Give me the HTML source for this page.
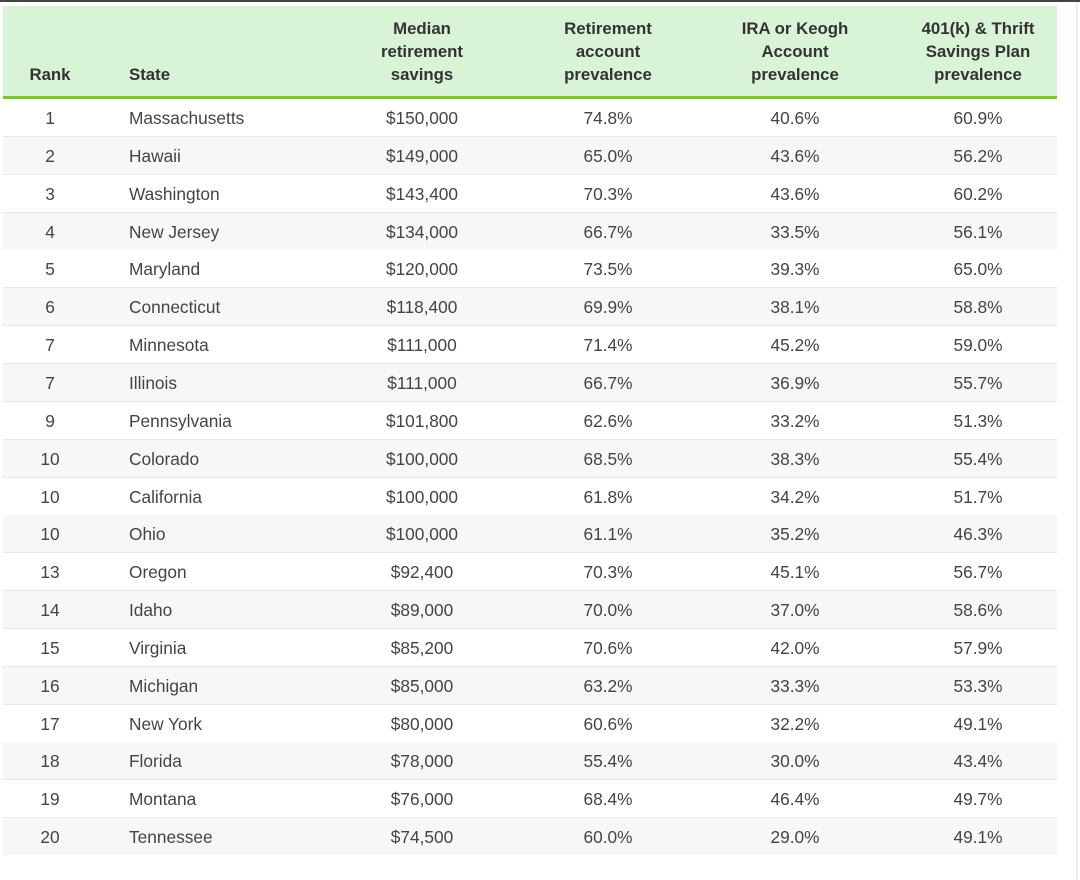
<!DOCTYPE html>
<html><head><style>
body{margin:0;width:1080px;height:880px;background:#fff;font-family:"Liberation Sans","DejaVu Sans",sans-serif;position:relative;overflow:hidden}
.top{position:absolute;left:0;top:0;width:1080px;height:2px;background:#444}
.vr{position:absolute;left:1076px;top:2px;width:2px;height:878px;background:#eee}
.hdr{position:absolute;left:3px;top:6px;width:1054px;height:90px;background:#d8f3d6;border-bottom:3px solid #7cc242}
.h{position:absolute;font-weight:bold;color:#333;font-size:16.8px;line-height:23px;text-align:center;width:180px}
.row{position:absolute;left:3px;width:1054px;height:37px;border-bottom:1px solid #e8e8e8}
.c{position:absolute;top:1px;line-height:37px;font-size:17.3px;color:#444;text-align:center;width:180px}
</style></head><body>
<div class="top"></div><div class="vr"></div>
<div class="hdr">
<div class="h" style="left:-43px;top:57px">Rank</div>
<div class="h" style="left:126px;top:57px;text-align:left">State</div>
<div class="h" style="left:329px;top:11px">Median<br>retirement<br>savings</div>
<div class="h" style="left:515px;top:11px">Retirement<br>account<br>prevalence</div>
<div class="h" style="left:702px;top:11px">IRA or Keogh<br>Account<br>prevalence</div>
<div class="h" style="left:885px;top:11px">401(k) &amp; Thrift<br>Savings Plan<br>prevalence</div>
</div>
<div id="rows"></div>
<script>
var d=[["1","Massachusetts","$150,000","74.8%","40.6%","60.9%"],["2","Hawaii","$149,000","65.0%","43.6%","56.2%"],["3","Washington","$143,400","70.3%","43.6%","60.2%"],["4","New Jersey","$134,000","66.7%","33.5%","56.1%"],["5","Maryland","$120,000","73.5%","39.3%","65.0%"],["6","Connecticut","$118,400","69.9%","38.1%","58.8%"],["7","Minnesota","$111,000","71.4%","45.2%","59.0%"],["7","Illinois","$111,000","66.7%","36.9%","55.7%"],["9","Pennsylvania","$101,800","62.6%","33.2%","51.3%"],["10","Colorado","$100,000","68.5%","38.3%","55.4%"],["10","California","$100,000","61.8%","34.2%","51.7%"],["10","Ohio","$100,000","61.1%","35.2%","46.3%"],["13","Oregon","$92,400","70.3%","45.1%","56.7%"],["14","Idaho","$89,000","70.0%","37.0%","58.6%"],["15","Virginia","$85,200","70.6%","42.0%","57.9%"],["16","Michigan","$85,000","63.2%","33.3%","53.3%"],["17","New York","$80,000","60.6%","32.2%","49.1%"],["18","Florida","$78,000","55.4%","30.0%","43.4%"],["19","Montana","$76,000","68.4%","46.4%","49.7%"],["20","Tennessee","$74,500","60.0%","29.0%","49.1%"]];
var lefts=[-43,126,329,515,702,885],h="";
d.forEach(function(r,i){
h+='<div class="row" style="top:'+Math.round(99+i*37.85)+'px;background:'+(i%2?'#f7f7f7':'#fff')+(i==19?';border-bottom:none':'')+'">';
r.forEach(function(t,j){h+='<div class="c" style="left:'+lefts[j]+'px'+(j==1?';text-align:left':'')+'">'+t+'</div>';});
h+='</div>';});
document.getElementById('rows').innerHTML=h;
</script>
</body></html>
